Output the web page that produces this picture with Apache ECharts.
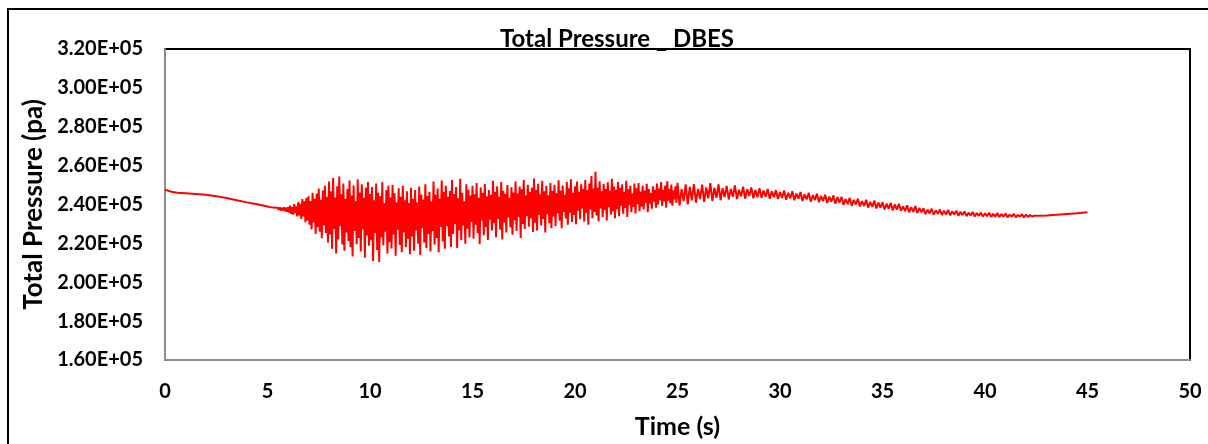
<!DOCTYPE html>
<html>
<head>
<meta charset="utf-8">
<script src="https://cdn.jsdelivr.net/npm/echarts@6/dist/echarts.min.js"></script>
<style>
html,body{margin:0;padding:0;background:#fff;}
#chart{width:1208px;height:444px;}
</style>
</head>
<body>
<div id="chart"></div>
<script>
// Values in kPa (axis labels shown in Pa, scientific)
const titleText = "Total Pressure _ DBES";
const xName = "Time (s)";
const yName = "Total Pressure (pa)";

const headTime = [0, 0.3, 0.6, 1, 1.5, 2, 2.5, 3, 3.5, 4, 4.5, 5.0, 5.25];
const headValues = [247.6, 246.6, 246.1, 245.8, 245.4, 245.0, 244.3, 243.3, 242.2, 241.1, 240.1, 239.0, 238.4];

// strong oscillation, sampled every 0.05 s from 5.5 s
const fineStart = 5.5;
const fineStep = 0.05;
const fineValues = [
 238.3, 237.2, 238.5, 236.9, 238.2, 237.0, 238.6, 236.5, 238.4, 236.2,
 238.8, 235.9, 239.4, 235.2, 238.6, 234.8, 240.2, 235.6, 239.0, 233.9, 241.2, 234.4, 240.4, 232.6, 242.8, 233.8, 241.6, 230.9, 243.4, 231.8,
 244.2, 229.6, 241.8, 227.2, 246.0, 230.8, 243.0, 224.8, 245.6, 228.4, 248.2, 226.0, 242.4, 222.6, 247.2, 229.2, 249.6, 225.4, 244.0, 220.4,
 251.8, 224.6, 246.8, 217.2, 253.6, 227.4, 243.6, 214.8, 249.4, 222.0, 254.4, 228.8, 245.2, 219.4, 250.8, 216.2, 242.8, 225.6, 248.0, 221.2,
 252.4, 218.0, 244.6, 213.2, 249.8, 226.4, 241.6, 219.6, 253.0, 222.8, 246.2, 215.8, 250.4, 227.2, 243.4, 212.6, 248.6, 224.0, 251.6, 218.8,
 245.4, 221.6, 249.0, 211.0, 242.2, 225.4, 250.8, 216.6, 246.0, 210.4, 244.2, 223.2, 251.4, 219.0, 240.6, 226.0, 247.4, 214.8, 249.8, 220.6,
 243.6, 217.4, 250.2, 224.6, 245.8, 213.6, 241.2, 227.0, 248.4, 219.2, 244.0, 215.4, 249.6, 225.8, 242.2, 218.0, 246.8, 222.4, 240.8, 214.4,
 248.6, 223.6, 243.0, 216.2, 247.4, 226.6, 241.0, 219.8, 249.2, 214.0, 245.2, 227.8, 242.6, 220.4, 250.4, 217.6, 244.4, 224.8, 246.6, 215.8,
 241.6, 226.2, 251.8, 219.4, 245.0, 222.8, 248.2, 215.4, 243.0, 228.6, 252.4, 221.0, 246.4, 217.2, 249.6, 229.0, 244.0, 223.6, 247.0, 218.2,
 252.6, 224.8, 245.4, 230.0, 249.0, 217.6, 243.2, 226.8, 253.2, 221.6, 246.0, 229.2, 241.6, 219.8, 250.4, 227.6, 247.6, 223.0, 244.6, 231.0,
 249.6, 222.4, 245.2, 229.6, 251.0, 225.2, 243.4, 219.6, 248.8, 231.8, 246.0, 224.2, 250.6, 228.4, 244.2, 221.8, 247.4, 232.2, 245.0, 226.6,
 252.2, 230.4, 246.6, 223.2, 249.4, 232.6, 244.0, 227.0, 251.6, 222.0, 247.0, 230.8, 245.4, 225.6, 250.0, 233.4, 243.4, 228.2, 248.8, 224.4,
 246.2, 231.8, 251.8, 226.4, 245.6, 233.6, 249.2, 222.8, 247.8, 230.0, 252.6, 227.4, 244.6, 234.0, 250.2, 228.6, 246.4, 232.8, 248.6, 225.8,
 253.4, 230.6, 247.4, 226.6, 250.6, 234.6, 245.2, 229.2, 252.2, 232.6, 246.8, 225.6, 249.6, 235.0, 244.8, 230.4, 251.0, 227.8, 247.0, 233.8,
 250.2, 229.0, 245.8, 235.4, 252.4, 231.6, 247.2, 227.8, 249.8, 236.2, 245.0, 232.8, 251.6, 229.6, 248.4, 235.8, 253.0, 231.0, 246.0, 234.6,
 249.4, 229.8, 251.8, 236.8, 246.6, 232.4, 250.4, 238.0, 248.0, 231.2, 252.6, 235.6, 247.4, 229.6, 250.8, 237.4, 254.6, 233.0, 248.2, 236.2,
 256.8, 234.4, 248.6, 231.4, 252.0, 238.0, 246.8, 233.6, 250.6, 237.2, 248.0, 231.8, 251.4, 238.6, 247.0, 234.8, 253.2, 236.4, 249.2, 233.0,
 247.6, 237.6, 251.6, 234.0, 248.6, 239.4, 250.4, 235.2, 246.4, 238.2, 252.2, 233.6, 247.8, 239.8, 249.6, 236.0, 245.6, 238.8, 250.8, 235.4,
 248.4, 240.2, 251.0, 236.6, 246.6, 239.0, 249.6, 237.4, 247.2, 241.0, 250.6, 236.0, 248.0, 240.4, 246.0, 237.8, 249.4, 241.4, 247.6, 238.4,
 250.8, 240.0, 248.2, 242.2, 251.6, 239.2, 247.4, 241.6, 249.8, 238.4, 252.0, 242.0, 248.0, 240.6, 250.2, 239.4, 247.2, 242.6, 249.4, 240.8
];

// decaying oscillation, sampled every 0.1 s from 25 s
const coarseStart = 25.0;
const coarseStep = 0.1;
const coarseValues = [
 251.1, 239.5, 247.9, 241.7, 250.3, 240.1, 249.1, 242.1, 250.5, 240.9,
 248.0, 242.8, 250.2, 241.4, 248.8, 243.2, 251.0, 241.8, 248.6, 243.4,
 250.4, 242.2, 248.4, 243.8, 249.6, 242.6, 248.0, 244.0, 249.8, 242.8,
 247.6, 244.2, 249.2, 243.0, 247.8, 244.4, 248.8, 243.2, 247.4, 243.8,
 248.4, 243.4, 247.2, 244.0, 248.0, 243.0, 246.8, 243.8, 247.4, 242.8,
 246.4, 243.4, 247.2, 242.4, 246.0, 243.2, 246.8, 242.2, 245.6, 243.0,
 246.4, 241.8, 245.2, 242.6, 246.0, 241.4, 244.8, 242.2, 245.6, 241.2,
 244.4, 241.8, 245.0, 240.8, 244.0, 241.4, 244.6, 240.4, 243.8, 241.0,
 244.0, 239.8, 242.8, 240.2, 243.4, 239.4, 242.4, 240.0, 243.0, 239.0,
 241.8, 239.2, 242.4, 238.4, 241.4, 238.8, 242.0, 238.0, 241.0, 238.4,
 241.2, 237.4, 240.4, 237.8, 240.8, 237.0, 240.0, 237.4, 240.4, 236.8,
 239.0, 236.6, 239.6, 236.0, 238.6, 236.2, 239.2, 235.6, 238.2, 236.0,
 238.0, 235.0, 237.4, 235.4, 237.8, 234.8, 237.0, 235.2, 237.4, 234.6,
 236.8, 234.8, 237.2, 234.4, 236.4, 234.8, 236.8, 234.2, 236.2, 234.6,
 236.4, 234.0, 235.8, 234.4, 236.2, 233.8, 235.6, 234.2, 235.8, 233.8,
 235.4, 234.0, 235.8, 233.6, 235.2, 233.8, 235.6, 233.6, 235.0, 233.8,
 235.4, 233.4, 234.8, 233.8, 235.2, 233.4, 234.6, 233.8, 235.0, 233.4,
 234.8, 233.6, 234.6, 233.8, 234.2
];

const tailTime = [42.5, 43, 43.5, 44, 44.5, 45];
const tailValues = [234.2, 234.4, 234.7, 235.1, 235.5, 236.0];

const xTicks = [0, 5, 10, 15, 20, 25, 30, 35, 40, 45, 50];
const yTicks = [160, 180, 200, 220, 240, 260, 280, 300, 320];

const data = [];
headTime.forEach((t, i) => data.push([t, headValues[i]]));
fineValues.forEach((v, i) => data.push([+(fineStart + i * fineStep).toFixed(2), v]));
coarseValues.forEach((v, i) => data.push([+(coarseStart + i * coarseStep).toFixed(2), v]));
tailTime.forEach((t, i) => data.push([t, tailValues[i]]));
data.sort((a, b) => a[0] - b[0]);

const FONT = 'Lato';
const chart = echarts.init(document.getElementById('chart'), null, {renderer: 'canvas'});
chart.setOption({
  animation: false,
  backgroundColor: '#ffffff',
  title: {
    text: titleText,
    left: 612,
    textAlign: 'center',
    top: 22,
    textStyle: {fontFamily: FONT, fontWeight: 'bold', fontSize: 24, color: '#000'}
  },
  graphic: [{
    type: 'rect',
    shape: {x: 8, y: 9, width: 1400, height: 600},
    style: {fill: null, stroke: '#000', lineWidth: 2},
    silent: true
  }],
  grid: {
    left: 165, right: 18, top: 49, bottom: 82,
    show: true, borderColor: '#000', borderWidth: 2, backgroundColor: 'transparent'
  },
  xAxis: {
    type: 'value',
    min: xTicks[0], max: xTicks[xTicks.length - 1], interval: 5,
    name: xName, nameLocation: 'middle', nameGap: 54,
    nameTextStyle: {fontFamily: FONT, fontWeight: 'bold', fontSize: 25, color: '#000'},
    axisLine: {show: true, lineStyle: {color: '#8c8c8c', width: 2}},
    axisTick: {show: false},
    splitLine: {show: false},
    axisLabel: {fontFamily: FONT, fontWeight: 'bold', fontSize: 20, color: '#000', margin: 22}
  },
  yAxis: {
    type: 'value',
    min: yTicks[0], max: yTicks[yTicks.length - 1], interval: 20,
    name: yName, nameLocation: 'middle', nameGap: 115, nameRotate: 90,
    nameTextStyle: {fontFamily: FONT, fontWeight: 'bold', fontSize: 26, color: '#000'},
    axisLine: {show: true, lineStyle: {color: '#8c8c8c', width: 2}},
    axisTick: {show: false},
    splitLine: {show: false},
    axisLabel: {
      fontFamily: FONT, fontWeight: 'bold', fontSize: 20, color: '#000', margin: 22,
      formatter: v => (v / 100).toFixed(2) + 'E+05'
    }
  },
  series: [{
    type: 'line',
    data: data,
    showSymbol: false,
    symbol: 'none',
    lineStyle: {color: '#ff0000', width: 2},
    itemStyle: {color: '#ff0000'}
  }]
});
</script>
</body>
</html>
